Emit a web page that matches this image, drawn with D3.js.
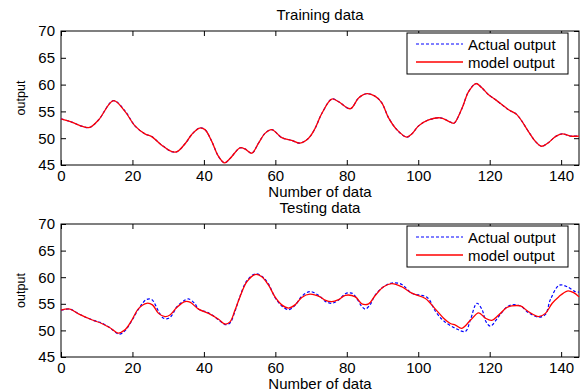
<!DOCTYPE html>
<html>
<head>
<meta charset="utf-8">
<script src="https://cdn.jsdelivr.net/npm/d3@7"></script>
<style>
  body { margin: 0; background: #fff; }
  svg text { font-family: "Liberation Sans", Arial, sans-serif; fill: #000; }
</style>
</head>
<body>
<svg id="chart" width="581" height="392"></svg>
<script>
// --- data: [index, value] ---
const trainX = [0, 3, 6, 8, 10.5, 14.7, 17.9, 20.7, 23.5, 25.4, 28.2, 31, 32.5, 35, 36.6, 38.8, 40.3, 42.2, 44.1, 45.8, 47.3, 50.1, 51.5, 53.4, 55.3, 57.1, 59, 61.8, 64.6, 66.9, 69.3, 71.1, 73, 75.8, 77.7, 81, 83.3, 85.6, 88, 89.8, 91.7, 94, 96.8, 98.2, 100.1, 102.9, 106.2, 109, 110, 112.2, 114.1, 116.2, 117.8, 119.7, 121.6, 125.3, 127.6, 130.9, 132.8, 134.5, 136.5, 138.4, 140.3, 142.6, 145];
const trainActual = [53.6, 53.0, 52.2, 52.0, 53.4, 57.0, 55.1, 52.3, 50.8, 50.3, 48.7, 47.5, 47.5, 49.2, 50.7, 51.9, 51.6, 49.4, 46.6, 45.4, 46.2, 48.2, 48.0, 47.2, 49.1, 50.9, 51.6, 50.1, 49.6, 49.1, 50.0, 51.8, 54.6, 57.3, 56.8, 55.5, 57.5, 58.3, 57.8, 56.6, 53.8, 51.6, 50.2, 50.8, 52.3, 53.4, 53.8, 53.0, 52.8, 55.5, 58.7, 60.2, 59.4, 58.1, 57.2, 55.3, 54.4, 51.2, 49.4, 48.5, 49.2, 50.3, 50.8, 50.4, 50.4];
const trainModel  = [53.6, 53.0, 52.2, 52.0, 53.4, 57.0, 55.0, 52.3, 50.8, 50.3, 48.7, 47.5, 47.5, 49.2, 50.7, 51.9, 51.6, 49.4, 46.6, 45.4, 46.2, 48.2, 48.0, 47.2, 49.1, 50.9, 51.6, 50.1, 49.6, 49.1, 50.0, 51.8, 54.6, 57.3, 56.8, 55.5, 57.5, 58.3, 57.8, 56.6, 53.8, 51.6, 50.2, 50.8, 52.3, 53.4, 53.8, 53.0, 52.8, 55.5, 58.7, 60.2, 59.4, 58.1, 57.2, 55.3, 54.4, 51.2, 49.4, 48.5, 49.2, 50.3, 50.8, 50.4, 50.4];

const testActualX = [0, 2.5, 5, 8.6, 11.4, 13.7, 16.3, 18, 19.8, 21.7, 23.9, 25.4, 27.3, 28.5, 29.8, 31, 32.4, 34.7, 35.8, 37.5, 38.5, 41.3, 44.1, 45.9, 47.3, 48.7, 50.1, 52, 54.3, 56.2, 58.1, 59.9, 61.8, 63.7, 65.5, 67.4, 69.7, 72.5, 73.9, 75.8, 77.7, 79.6, 81.4, 82.6, 84.2, 85.2, 86.5, 88, 90.3, 92.6, 95.2, 98.2, 102.5, 104.8, 107.1, 110.4, 113.2, 114.6, 116.4, 117.8, 119, 120.2, 122.5, 124.8, 126.2, 128.6, 130.9, 133.7, 135.6, 137, 139.5, 141.7, 143.9, 145];
const testActual  = [53.8, 54.0, 53.1, 52.0, 51.4, 50.5, 49.3, 50.0, 51.8, 54.0, 55.8, 55.8, 53.6, 52.4, 52.2, 52.8, 54.4, 55.7, 55.9, 55.0, 54.0, 53.3, 52.0, 51.1, 51.4, 53.6, 56.4, 59.3, 60.6, 60.2, 58.7, 56.2, 54.6, 53.9, 54.7, 56.4, 57.3, 56.4, 55.5, 55.1, 55.7, 56.9, 57.0, 56.2, 54.5, 54.0, 54.8, 56.7, 58.2, 58.9, 58.7, 57.0, 56.2, 53.6, 51.8, 50.4, 49.8, 52.0, 55.1, 54.0, 51.6, 50.8, 52.6, 54.4, 54.8, 54.6, 53.3, 52.5, 53.0, 55.8, 58.5, 58.2, 57.3, 57.2];

const testModelX = [0, 2.5, 4.9, 8.6, 11.4, 13.7, 16, 17.9, 19.8, 21.7, 24, 25.6, 27.3, 29.1, 30.5, 32.4, 34.7, 36.1, 38.5, 41.3, 44.1, 45.9, 47.3, 48.7, 50.1, 52, 54.3, 56.2, 58.1, 59.9, 61.8, 63.7, 65.5, 67.4, 69.7, 72.5, 73.9, 75.8, 77.7, 79.6, 82.4, 84.2, 86.1, 88, 90.3, 92.6, 95.4, 98.2, 102, 104.8, 107.1, 109, 110.4, 112.2, 114.6, 116.9, 118.8, 120.6, 122.5, 124.8, 126.2, 128.6, 130.9, 133.7, 135.6, 137.5, 139.3, 141.7, 143.5, 145];
const testModel  = [53.8, 54.0, 53.1, 52.0, 51.3, 50.5, 49.5, 50.1, 51.9, 54.1, 55.1, 54.8, 53.2, 52.6, 52.9, 54.3, 55.4, 55.3, 54.0, 53.2, 52.1, 51.2, 51.6, 53.8, 56.3, 59.1, 60.5, 60.1, 58.5, 56.3, 54.8, 54.2, 54.8, 56.2, 56.8, 56.3, 55.7, 55.4, 55.8, 56.6, 56.3, 55.0, 55.0, 56.6, 58.2, 58.8, 58.2, 57.0, 56.0, 54.0, 52.3, 51.3, 51.0, 50.4, 51.9, 53.3, 52.3, 51.9, 52.9, 54.3, 54.6, 54.6, 53.5, 52.6, 53.2, 55.1, 56.3, 57.4, 57.1, 56.3];

const xTicks = [0, 20, 40, 60, 80, 100, 120, 140];
const yTicks = [45, 50, 55, 60, 65, 70];
const legendLabels = ["Actual output", "model output"];

const svg = d3.select("#chart");
const left = 61, right = 579;

function panel(top, bottom, title, actX, act, modX, mod) {
  const x = d3.scaleLinear().domain([0, 145]).range([left, right]);
  const y = d3.scaleLinear().domain([45, 70]).range([bottom, top]);
  const g = svg.append("g");

  // axes: ticks inside, on all four sides
  const tickLen = 5;
  g.append("g").attr("transform", `translate(0,${bottom})`)
    .call(d3.axisBottom(x).tickValues(xTicks).tickSizeInner(-tickLen).tickSizeOuter(0).tickPadding(5))
    .call(a => a.select(".domain").remove())
    .selectAll("text").style("font-size", "15px");
  g.append("g").attr("transform", `translate(0,${top})`)
    .call(d3.axisTop(x).tickValues(xTicks).tickSizeInner(-tickLen).tickSizeOuter(0).tickFormat(""))
    .call(a => a.select(".domain").remove());
  g.append("g").attr("transform", `translate(${left},0)`)
    .call(d3.axisLeft(y).tickValues(yTicks).tickSizeInner(-tickLen).tickSizeOuter(0).tickPadding(6))
    .call(a => a.select(".domain").remove())
    .selectAll("text").style("font-size", "15px");
  g.append("g").attr("transform", `translate(${right},0)`)
    .call(d3.axisRight(y).tickValues(yTicks).tickSizeInner(-tickLen).tickSizeOuter(0).tickFormat(""))
    .call(a => a.select(".domain").remove());
  g.selectAll(".tick line").attr("stroke", "#000");

  g.append("rect")
    .attr("x", left).attr("y", top)
    .attr("width", right - left).attr("height", bottom - top)
    .attr("fill", "none").attr("stroke", "#000").attr("stroke-width", 1);

  const line = d3.line().x(d => x(d[0])).y(d => y(d[1])).curve(d3.curveCatmullRom.alpha(0.5));

  g.append("path")
    .datum(actX.map((v, i) => [v, act[i]]))
    .attr("d", line).attr("fill", "none")
    .attr("stroke", "#0000ff").attr("stroke-width", 1.2).attr("stroke-dasharray", "3,2");
  g.append("path")
    .datum(modX.map((v, i) => [v, mod[i]]))
    .attr("d", line).attr("fill", "none")
    .attr("stroke", "#ff0000").attr("stroke-width", 1.3);

  // titles and labels
  g.append("text").attr("x", (left + right) / 2).attr("y", top - 11)
    .attr("text-anchor", "middle").style("font-size", "15px").text(title);
  g.append("text").attr("x", (left + right) / 2).attr("y", bottom + 32)
    .attr("text-anchor", "middle").style("font-size", "15px").text("Number of data");
  g.append("text")
    .attr("transform", `translate(25,${(top + bottom) / 2}) rotate(-90)`)
    .attr("text-anchor", "middle").style("font-size", "12.5px").text("output");

  // legend
  const lg = g.append("g").attr("transform", `translate(407,${top + 2})`);
  lg.append("rect").attr("width", 161).attr("height", 41)
    .attr("fill", "#fff").attr("stroke", "#000");
  [["#0000ff", "3,2", 1.2], ["#ff0000", "none", 1.6]].forEach((s, i) => {
    const ly = 11 + i * 18;
    lg.append("line").attr("x1", 9).attr("x2", 56).attr("y1", ly).attr("y2", ly)
      .style("stroke", s[0]).style("stroke-width", s[2]).style("stroke-dasharray", s[1]);
    lg.append("text").attr("x", 61).attr("y", ly + 5.5)
      .style("font-size", "15px").text(legendLabels[i]);
  });
}

panel(31, 165, "Training data", trainX, trainActual, trainX, trainModel);
panel(224, 357, "Testing data", testActualX, testActual, testModelX, testModel);
</script>
</body>
</html>
